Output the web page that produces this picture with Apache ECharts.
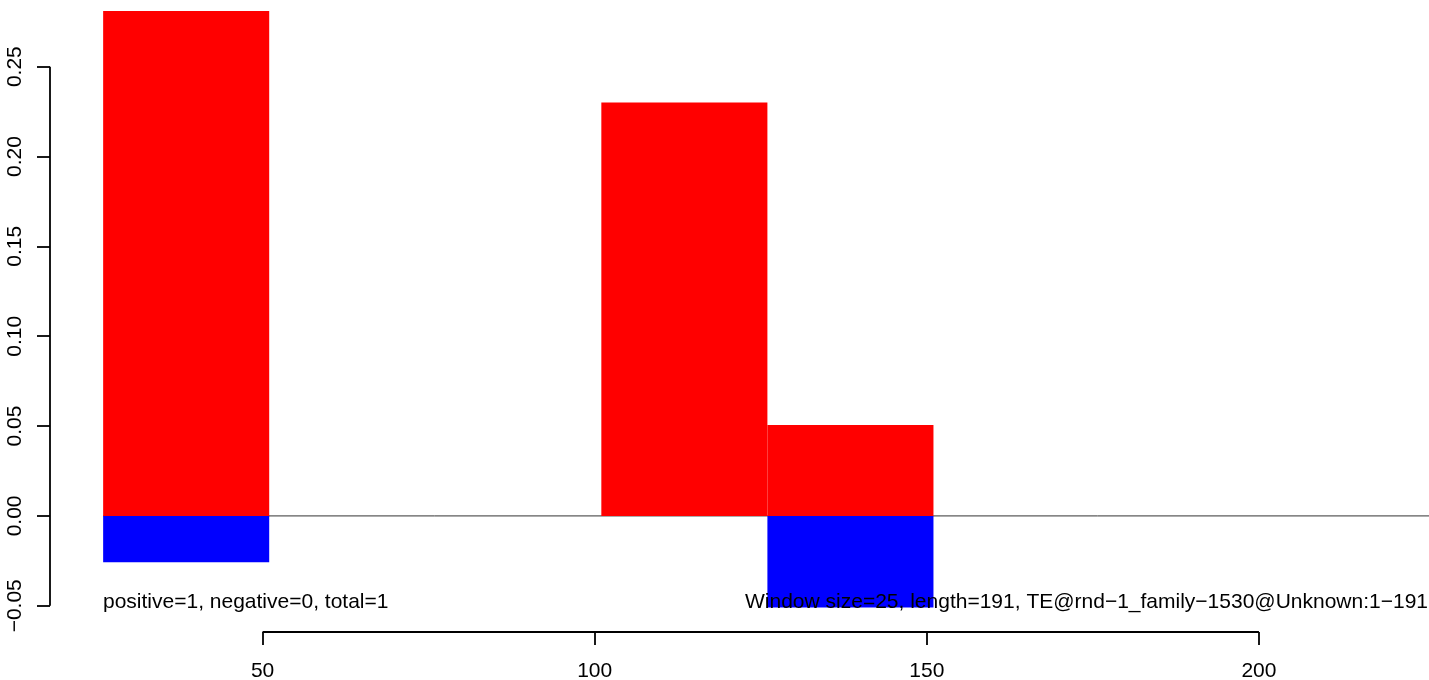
<!DOCTYPE html>
<html>
<head>
<meta charset="utf-8">
<script src="https://cdn.jsdelivr.net/npm/echarts@6/dist/echarts.min.js"></script>
<style>
html,body{margin:0;padding:0;background:#fff;}
#chart{width:1429px;height:680px;}
</style>
</head>
<body>
<div id="chart"></div>
<script>
// Window data (size 25)
const windowStart = [26, 101, 126];
const windowEnd = [51, 126, 151];
const positiveValues = [0.281, 0.23, 0.0506];
const negativeValues = [-0.0258, 0, -0.051];
const xTicks = [50, 100, 150, 200];
const yTicks = [-0.05, 0, 0.05, 0.10, 0.15, 0.20, 0.25];
const leftNote = 'positive=1, negative=0, total=1';
const rightNote = 'Window size=25, length=191, TE@rnd\u22121_family\u22121530@Unknown:1\u2212191';

const X_MIN = 18.0, X_MAX = 225.6;
const Y_MIN = -0.0646, Y_MAX = 0.2871;
const FONT = '"Liberation Sans", Arial, Helvetica, sans-serif';

const posData = windowStart.map((s, i) => [s, windowEnd[i], positiveValues[i]]);
const negData = windowStart.map((s, i) => [s, windowEnd[i], negativeValues[i]]);

function rectItem(color) {
  return function (params, api) {
    const p0 = api.coord([api.value(0), api.value(2)]);
    const p1 = api.coord([api.value(1), 0]);
    const x = Math.min(p0[0], p1[0]);
    const y = Math.min(p0[1], p1[1]);
    return {
      type: 'rect',
      shape: { x: x, y: y, width: Math.abs(p1[0] - p0[0]), height: Math.abs(p1[1] - p0[1]) },
      style: { fill: color }
    };
  };
}

const chart = echarts.init(document.getElementById('chart'), null, { renderer: 'canvas' });
const axisColor = '#000';
chart.setOption({
  animation: false,
  backgroundColor: '#fff',
  grid: { left: 50, right: 0, top: 0, bottom: 48, outerBoundsMode: 'none', containLabel: false },
  xAxis: {
    type: 'value', min: X_MIN, max: X_MAX,
    axisLine: { show: false, onZero: false },
    splitLine: { show: false },
    axisTick: { show: true, customValues: xTicks, length: 13, lineStyle: { color: axisColor, width: 1.8 } },
    axisLabel: { customValues: xTicks, margin: 29, color: '#000', fontSize: 21, fontFamily: FONT,
                 showMinLabel: true, showMaxLabel: true }
  },
  yAxis: {
    type: 'value', min: Y_MIN, max: Y_MAX,
    axisLine: { show: false, onZero: false },
    splitLine: { show: false },
    axisTick: { show: true, customValues: yTicks, length: 13, lineStyle: { color: axisColor, width: 1.8 } },
    axisLabel: { customValues: yTicks, rotate: 90, margin: 24, color: '#000', fontSize: 21, fontFamily: FONT,
                 formatter: v => Number(v).toFixed(2).replace('-', '\u2212'),
                 showMinLabel: true, showMaxLabel: true }
  },
  series: [
    {
      type: 'line', silent: true, clip: false, symbol: 'none', z: 1,
      data: [[windowStart[0], 0], [X_MAX, 0]],
      lineStyle: { color: '#333', width: 1 }
    },
    {
      type: 'custom', silent: true, z: 2, renderItem: rectItem('#FF0000'),
      encode: { x: [0, 1], y: 2 }, data: posData
    },
    {
      type: 'custom', silent: true, z: 2, renderItem: rectItem('#0000FF'),
      encode: { x: [0, 1], y: 2 }, data: negData
    },
    {
      type: 'line', silent: true, clip: false, symbol: 'none', z: 3,
      data: [[xTicks[0], Y_MIN], [xTicks[xTicks.length - 1], Y_MIN]],
      lineStyle: { color: axisColor, width: 1.8 }
    },
    {
      type: 'line', silent: true, clip: false, symbol: 'none', z: 3,
      data: [[X_MIN, yTicks[0]], [X_MIN, yTicks[yTicks.length - 1]]],
      lineStyle: { color: axisColor, width: 1.8 }
    }
  ],
  graphic: [
    { type: 'text', left: 103, top: 592, z: 10,
      style: { text: leftNote, fill: '#000', font: '21px ' + FONT } },
    { type: 'text', right: 1, top: 592, z: 10,
      style: { text: rightNote, fill: '#000', font: '21px ' + FONT } }
  ]
});
</script>
</body>
</html>
